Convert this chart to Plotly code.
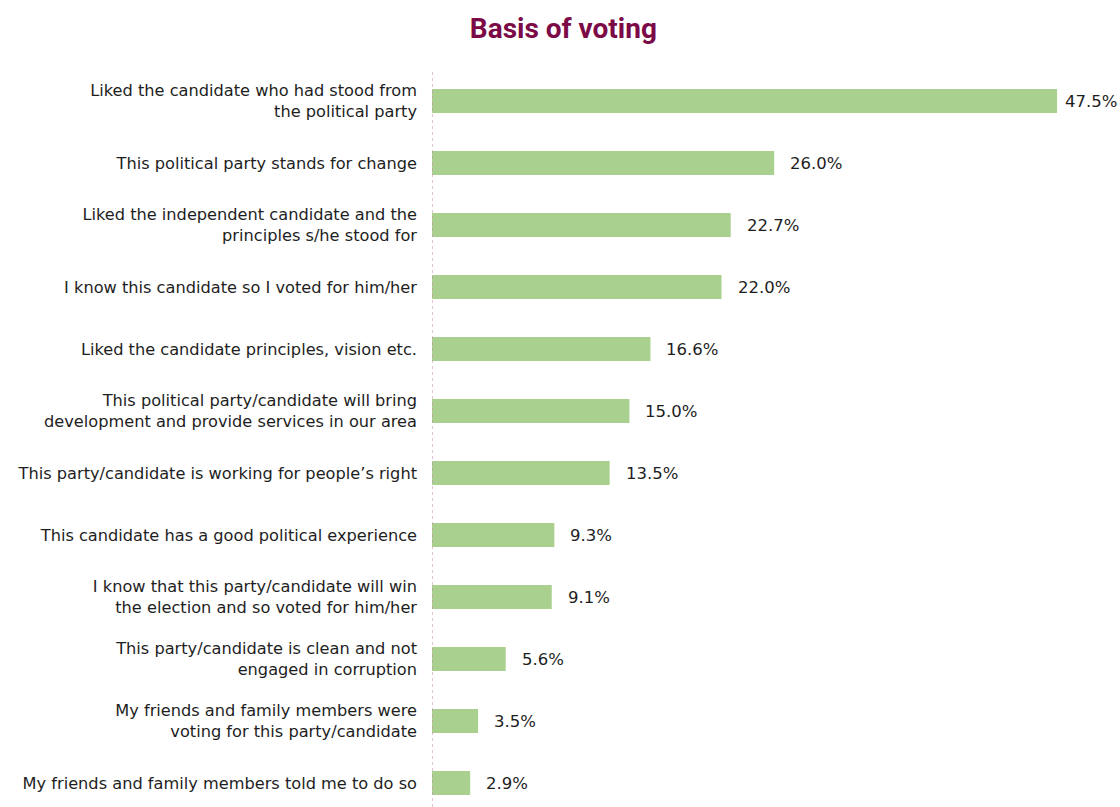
import plotly.graph_objects as go

# Reasons respondents gave for their vote (share of respondents, %)
reasons = [
    "Liked the candidate who had stood from<br>the political party",
    "This political party stands for change",
    "Liked the independent candidate and the<br>principles s/he stood for",
    "I know this candidate so I voted for him/her",
    "Liked the candidate principles, vision etc.",
    "This political party/candidate will bring<br>development and provide services in our area",
    "This party/candidate is working for people\u2019s right",
    "This candidate has a good political experience",
    "I know that this party/candidate will win<br>the election and so voted for him/her",
    "This party/candidate is clean and not<br>engaged in corruption",
    "My friends and family members were<br>voting for this party/candidate",
    "My friends and family members told me to do so",
]
shares = [47.5, 26.0, 22.7, 22.0, 16.6, 15.0, 13.5, 9.3, 9.1, 5.6, 3.5, 2.9]
share_labels = [f"{v:.1f}%" for v in shares]

positions = list(range(len(reasons)))
label_font = "DejaVu Sans, Liberation Sans, sans-serif"

fig = go.Figure(
    go.Bar(
        x=shares,
        y=positions,
        orientation="h",
        width=0.39,
        marker=dict(color="#a9d08e", line=dict(width=0)),
        hoverinfo="skip",
    )
)

# value labels just to the right of each bar; the longest bar's label sits tighter
for pos, val, lab in zip(positions, shares, share_labels):
    fig.add_annotation(
        x=val,
        y=pos,
        xref="x",
        yref="y",
        text=lab,
        showarrow=False,
        xanchor="left",
        yanchor="middle",
        xshift=6 if val == max(shares) else 14,
        font=dict(family=label_font, size=16.5, color="#1e1e1e"),
    )

fig.update_layout(
    width=1120,
    height=807,
    margin=dict(l=432, r=0, t=70, b=0),
    paper_bgcolor="white",
    plot_bgcolor="white",
    showlegend=False,
    title=dict(
        text="<b>Basis of voting</b>",
        x=0.503,
        xanchor="center",
        y=0.965,
        yanchor="middle",
        font=dict(family="Roboto, Liberation Sans, sans-serif", size=28, color="#7b0a47"),
    ),
)

fig.update_xaxes(
    range=[0, 52.28],
    visible=False,
    showgrid=False,
    zeroline=False,
)

fig.update_yaxes(
    tickmode="array",
    tickvals=positions,
    ticktext=reasons,
    range=[11.387, -0.5],
    showgrid=False,
    zeroline=False,
    showline=False,
    ticks="",
    ticklabelstandoff=14,
    tickfont=dict(family=label_font, size=16.2, color="#1e1e1e"),
)

# dotted baseline along the category axis
fig.add_shape(
    type="line",
    xref="x",
    yref="paper",
    x0=0,
    x1=0,
    y0=0,
    y1=1,
    line=dict(color="#c48aa3", width=1, dash="dot"),
)

fig.write_html("out.html")
